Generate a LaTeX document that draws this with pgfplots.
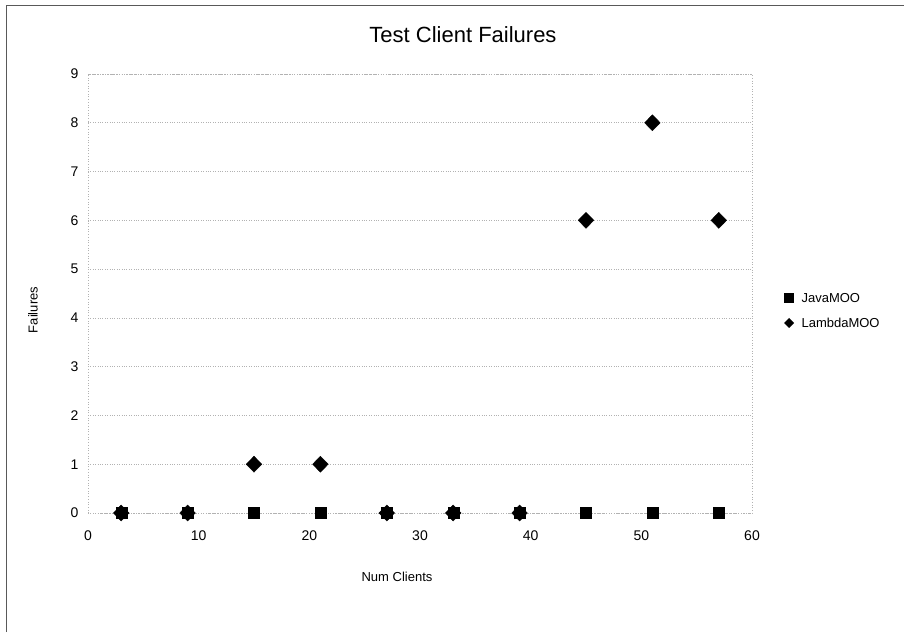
\documentclass[border=0pt]{standalone}
\usepackage{pgfplots}
\pgfplotsset{compat=1.18}
\usepackage{fontspec}
\setmainfont{Liberation Sans}
\begin{document}
\begin{tikzpicture}[x=1pt,y=1pt]
\useasboundingbox (0,0) rectangle (904,632);
\draw[gray!70!black, line width=1pt] (6,0) -- (6,626) -- (904,626);
\begin{axis}[
  at={(88pt,119pt)}, anchor=south west,
  scale only axis, width=664pt, height=439pt,
  xmin=0, xmax=60, ymin=0, ymax=9,
  xtick={0,10,...,60}, ytick={0,1,...,9},
  ymajorgrids,
  grid style={gray!60, dotted, line width=0.7pt},
  axis line style={gray!60, dotted, line width=0.7pt},
  major tick length=0pt,
  tick label style={font=\fontsize{14}{16}\selectfont},
  /pgf/number format/assume math mode=true,
  xticklabel style={yshift=-14pt},
  yticklabel style={xshift=-6pt},
  clip=false,
]
\addplot[only marks, mark=square*, mark size=5.5pt, black] coordinates {
(3,0) (9,0) (15,0) (21,0) (27,0) (33,0) (39,0) (45,0) (51,0) (57,0)};
\addplot[only marks, mark=diamond*, mark size=8pt, black, mark options={xscale=1.3}] coordinates {
(3,0) (9,0) (15,1) (21,1) (27,0) (33,0) (39,0) (45,6) (51,8) (57,6)};
\end{axis}
\node[font=\fontsize{22}{24}\selectfont] at (463,597) {Test Client Failures};
\node[font=\fontsize{13}{15}\selectfont] at (397,55) {Num Clients};
\node[font=\fontsize{13}{15}\selectfont, rotate=90] at (33,322) {Failures};
\fill[black] (784,329) rectangle (794,339);
\node[font=\fontsize{13}{15}\selectfont, anchor=west] at (798,334) {JavaMOO};
\fill[black] (789,314) -- (794,309) -- (789,304) -- (784,309) -- cycle;
\node[font=\fontsize{13}{15}\selectfont, anchor=west] at (798,309) {LambdaMOO};
\end{tikzpicture}
\end{document}
